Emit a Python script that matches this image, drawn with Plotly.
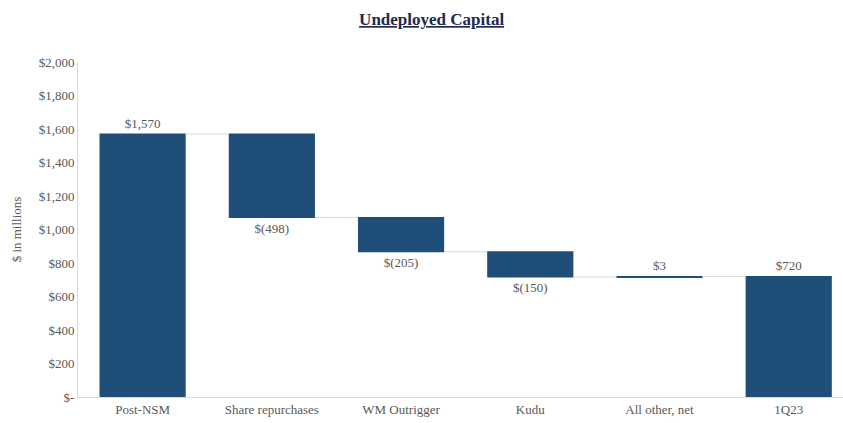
import plotly.graph_objects as go

categories = ["Post-NSM", "Share repurchases", "WM Outrigger", "Kudu", "All other, net", "1Q23"]
values = [1570, -498, -205, -150, 3, 720]
measures = ["absolute", "relative", "relative", "relative", "relative", "total"]
tick_vals = [0, 200, 400, 600, 800, 1000, 1200, 1400, 1600, 1800, 2000]
tick_text = ["$-", "$200", "$400", "$600", "$800", "$1,000", "$1,200", "$1,400", "$1,600", "$1,800", "$2,000"]


def money(v):
    return f"${abs(v):,}" if v >= 0 else f"$({abs(v):,})"


bar_color = "#1F4E79"
serif = "Liberation Serif, Times New Roman, serif"

fig = go.Figure(go.Waterfall(
    x=categories,
    y=values,
    measure=measures,
    text=[money(v) for v in values],
    textposition="outside",
    textfont=dict(family=serif, size=13, color="#595959"),
    increasing=dict(marker=dict(color=bar_color)),
    decreasing=dict(marker=dict(color=bar_color)),
    totals=dict(marker=dict(color=bar_color)),
    connector=dict(line=dict(color="#D9D9D9", width=1)),
    width=0.667,
    cliponaxis=False,
))

fig.update_layout(
    width=843, height=423,
    margin=dict(l=78, r=0, t=62, b=26),
    paper_bgcolor="white", plot_bgcolor="white",
    showlegend=False,
    title=dict(
        text="<b><u>Undeployed Capital</u></b>",
        x=0.512, xanchor="center", y=0.955, yanchor="middle",
        font=dict(family=serif, size=17, color="#1F2A4F"),
    ),
    font=dict(family=serif, size=13, color="#595959"),
)

fig.update_xaxes(
    range=[-0.5, 5.42],
    showline=True, linecolor="#D9D9D9", linewidth=1,
    showgrid=False, ticks="",
    tickfont=dict(family=serif, size=13, color="#595959"),
)
fig.update_yaxes(
    range=[0, 2000],
    tickvals=tick_vals, ticktext=tick_text,
    showline=True, linecolor="#D9D9D9", linewidth=1,
    showgrid=False, zeroline=False, ticks="",
    tickfont=dict(family=serif, size=13, color="#595959"),
    title=dict(text="$ in millions", font=dict(family=serif, size=13, color="#595959"), standoff=14),
)

fig.write_html("out.html")
